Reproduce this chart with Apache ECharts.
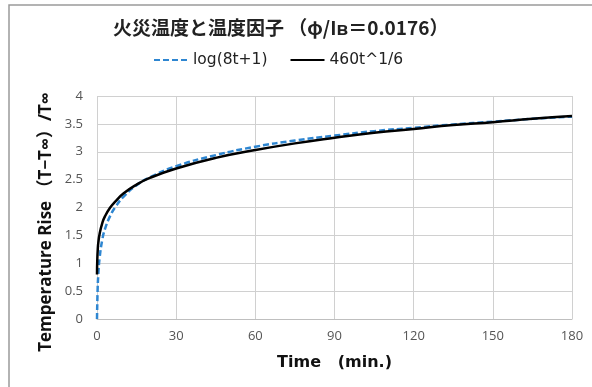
<!DOCTYPE html>
<html>
<head>
<meta charset="utf-8">
<script src="https://cdn.jsdelivr.net/npm/echarts@6/dist/echarts.min.js"></script>
<style>
  html, body { margin: 0; padding: 0; background: #fff; }
  #chart { width: 592px; height: 387px; }
</style>
</head>
<body>
<div id="chart"></div>
<script>
// 火災温度曲線（値はグラフから読み取り）
const logTimes = [0, 0.25, 0.5, 1, 2, 3, 5, 7, 10, 15, 20, 30, 45, 60, 75, 90, 105, 120, 135, 150, 165, 180];
const logValues = [0, 0.55, 0.80, 1.10, 1.42, 1.61, 1.85, 2.01, 2.19, 2.40, 2.54, 2.74, 2.94, 3.09, 3.20, 3.29, 3.37, 3.43, 3.49, 3.54, 3.59, 3.63];

const powTimes = [0, 0.1, 0.3, 0.5, 1, 2, 3, 5, 7, 10, 15, 20, 30, 45, 60, 75, 90, 105, 120, 135, 150, 165, 180];
const powValues = [0.80, 1.05, 1.26, 1.37, 1.53, 1.72, 1.84, 2.00, 2.11, 2.25, 2.41, 2.53, 2.70, 2.89, 3.03, 3.15, 3.25, 3.34, 3.41, 3.48, 3.53, 3.59, 3.64];

const toPairs = (xs, ys) => xs.map((x, i) => [x, ys[i]]);

const chart = echarts.init(document.getElementById('chart'), null, { renderer: 'canvas' });

const option = {
  animation: false,
  textStyle: { fontFamily: '"Open Sans", "Noto Sans CJK JP", sans-serif' },
  title: {
    text: '火災温度と温度因子 （φ/Iʙ＝0.0176）',
    left: 108,
    top: 13,
    textStyle: { fontSize: 19, fontWeight: 'bold', color: '#222', fontFamily: '"Noto Sans CJK JP", sans-serif' }
  },
  legend: {
    top: 47,
    left: 148,
    itemWidth: 34,
    itemHeight: 12,
    itemGap: 22,
    itemStyle: { opacity: 0 },
    textStyle: { fontSize: 15.5, color: '#222', fontFamily: '"DejaVu Sans", sans-serif' },
    data: ['log(8t+1)', '460t^1/6']
  },
  grid: { left: 97, right: 20, top: 96, bottom: 68 },
  xAxis: {
    type: 'value',
    min: 0,
    max: 180,
    interval: 30,
    name: 'Time   (min.)',
    nameLocation: 'middle',
    nameGap: 36,
    nameTextStyle: { fontSize: 16, fontWeight: 'bold', color: '#111', fontFamily: '"DejaVu Sans", sans-serif' },
    axisLine: { show: true, lineStyle: { color: '#bfbfbf' } },
    axisTick: { show: false },
    axisLabel: { color: '#555', fontSize: 13, margin: 11 },
    splitLine: { show: true, lineStyle: { color: '#d0d0d0' } }
  },
  yAxis: {
    type: 'value',
    min: 0,
    max: 4,
    interval: 0.5,
    axisLine: { show: false },
    axisTick: { show: false },
    axisLabel: { color: '#555', fontSize: 13, margin: 14 },
    splitLine: { show: true, lineStyle: { color: '#d0d0d0' } }
  },
  series: [
    {
      name: 'log(8t+1)',
      type: 'line',
      smooth: true,
      symbol: 'none',
      lineStyle: { color: '#2e86d1', width: 2.5, type: [6, 3] },
      itemStyle: { color: '#2e86d1' },
      data: toPairs(logTimes, logValues),
      z: 2
    },
    {
      name: '460t^1/6',
      type: 'line',
      smooth: true,
      symbol: 'none',
      lineStyle: { color: '#000', width: 2.5 },
      itemStyle: { color: '#000' },
      data: toPairs(powTimes, powValues),
      z: 3
    }
  ],
  graphic: [
    {
      type: 'rect',
      shape: { x: 9, y: 5, width: 620, height: 420 },
      style: { fill: 'none', stroke: '#9a9a9a', lineWidth: 1.5 },
      silent: true
    },
    {
      type: 'text',
      x: 46,
      y: 222,
      rotation: Math.PI / 2,
      style: {
        text: 'Temperature Rise （T−T∞）/T∞',
        textAlign: 'center',
        textVerticalAlign: 'middle',
        fontSize: 17,
        fontWeight: 'bold',
        fill: '#111',
        fontFamily: '"Open Sans", "Noto Sans CJK JP", sans-serif'
      },
      silent: true
    }
  ]
};

chart.setOption(option);
</script>
</body>
</html>
